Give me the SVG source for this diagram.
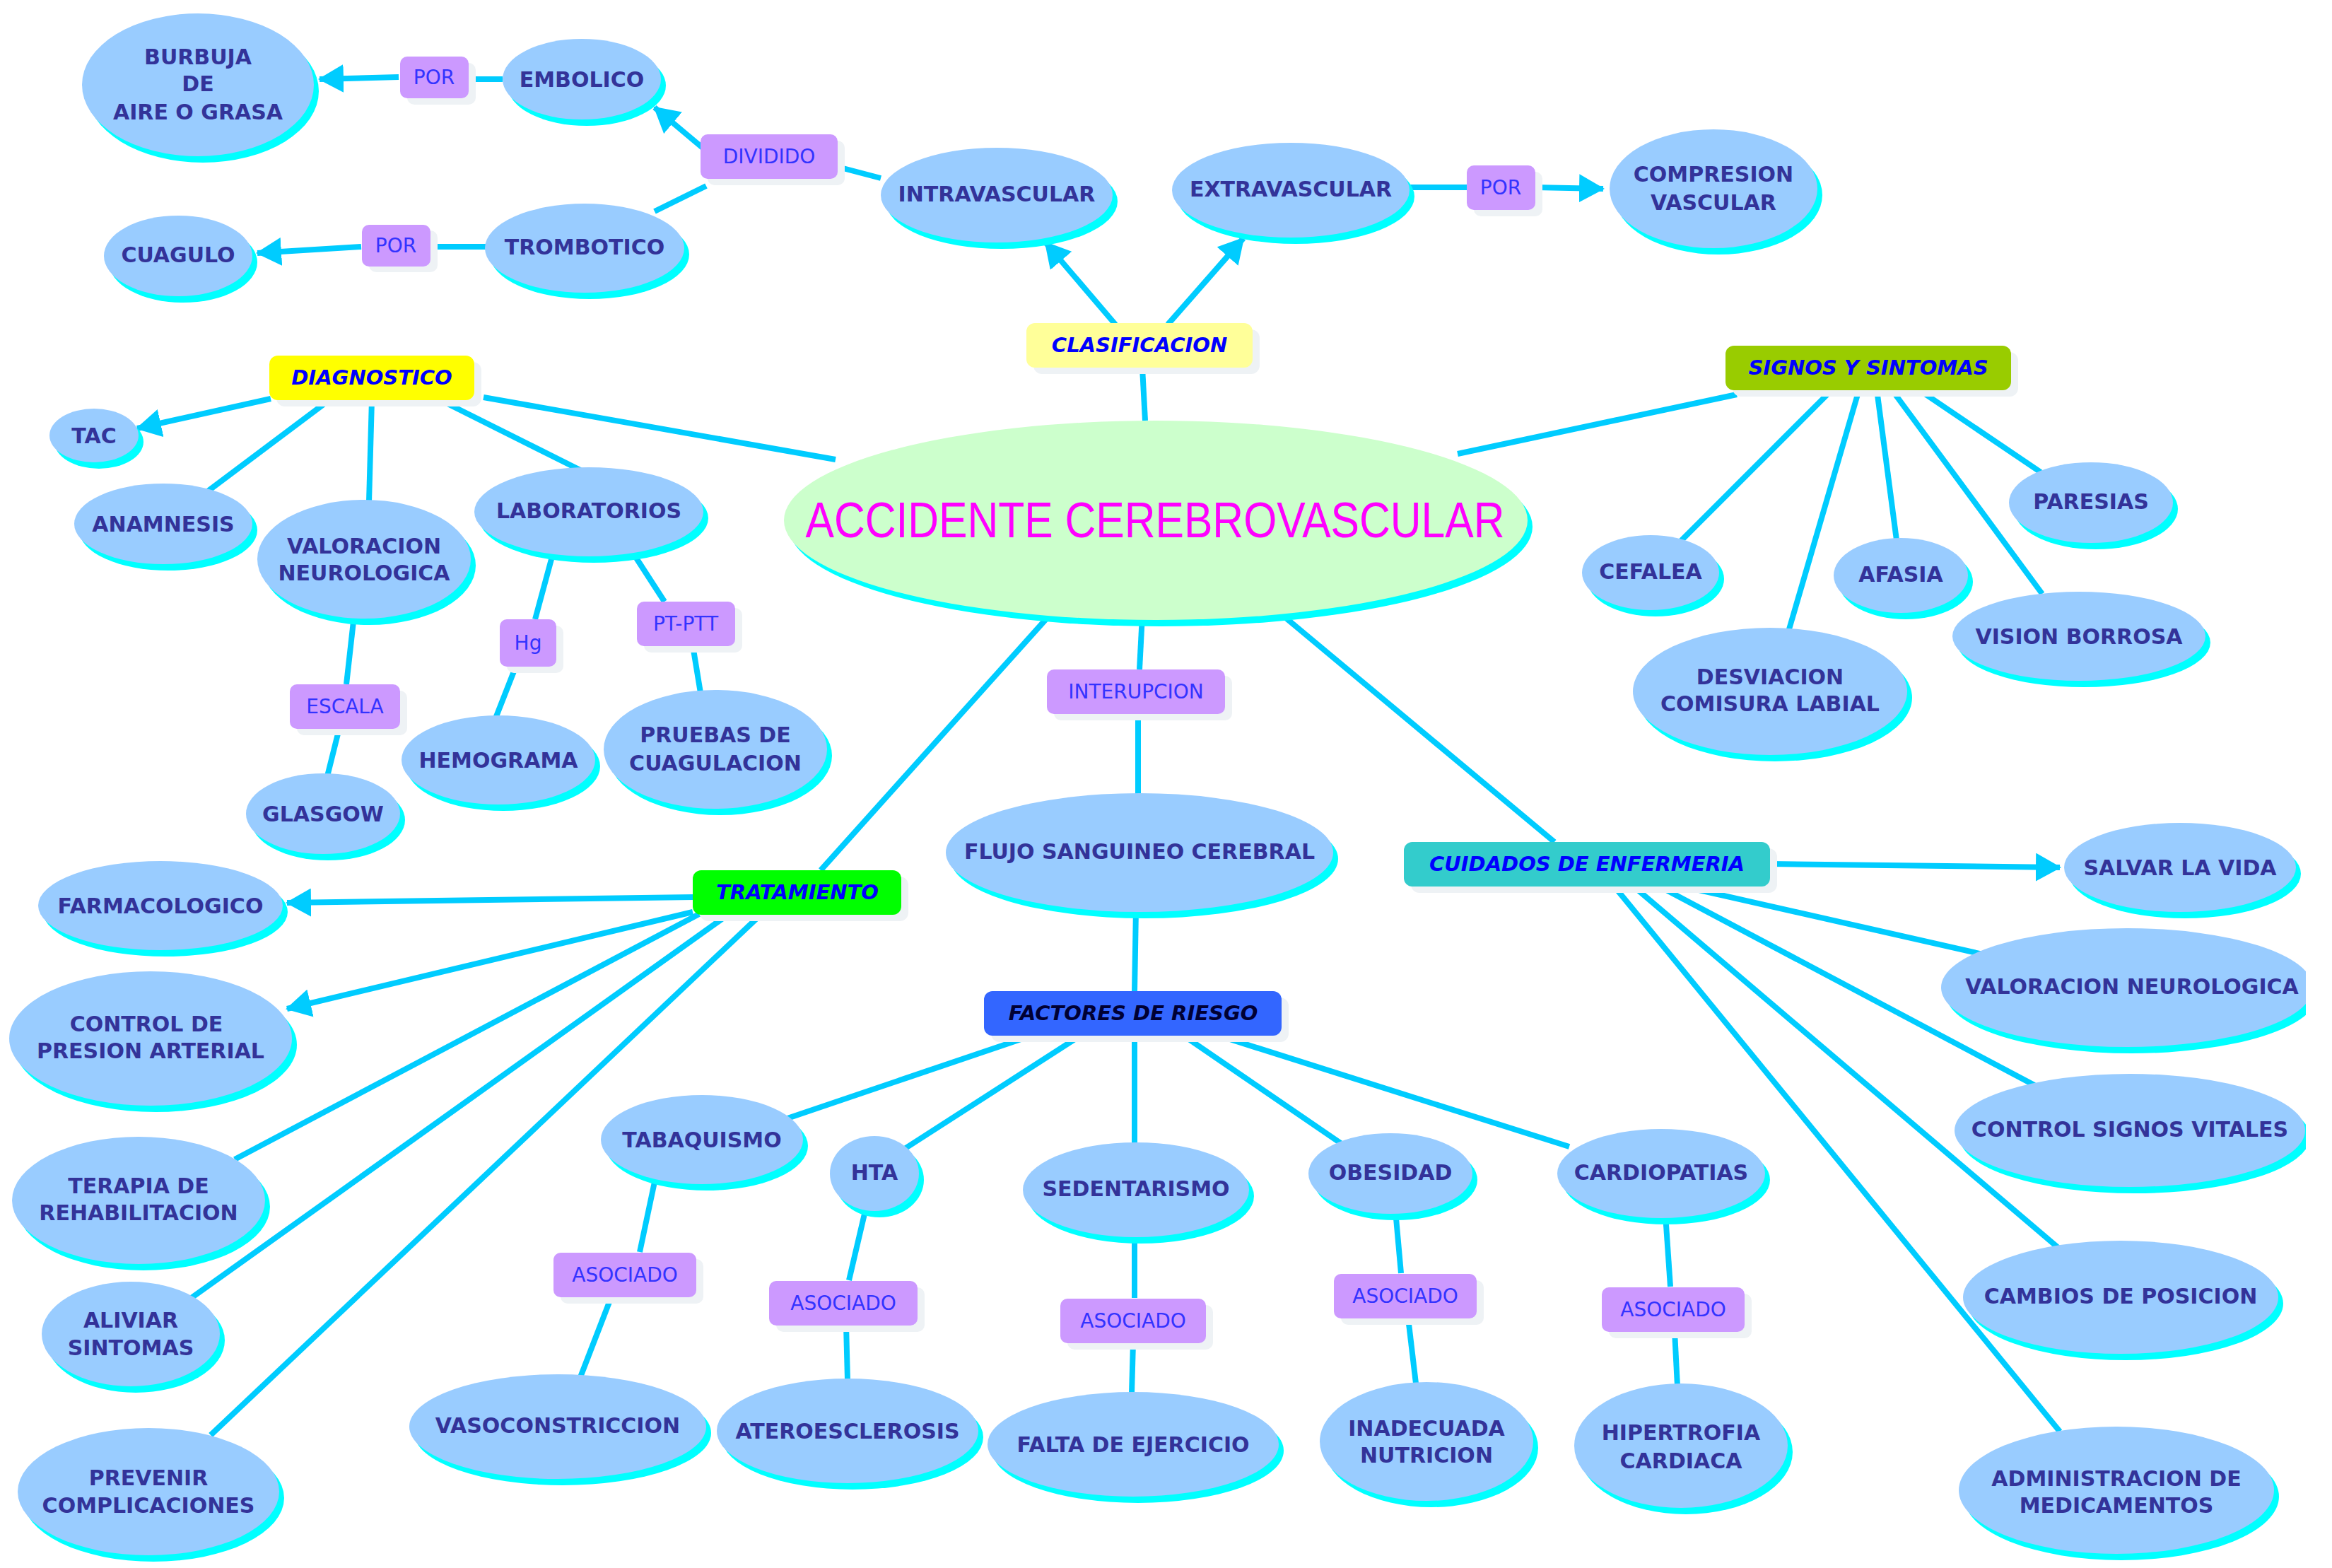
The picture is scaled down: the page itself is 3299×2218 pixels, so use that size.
<svg xmlns="http://www.w3.org/2000/svg" width="3299" height="2218" viewBox="0 0 3299 2218">
<style>
.bg{fill:#ffffff}
.sh{fill:#00ffff}
.el{fill:#99ccff}
.main{fill:#ccffcc}
.t{font-family:"DejaVu Sans",Verdana,sans-serif;font-weight:bold;font-size:30px;fill:#333399;text-anchor:middle;dominant-baseline:central}
.mt{font-family:"Liberation Sans",Arial,sans-serif;font-size:70px;fill:#ff00ff;text-anchor:middle;dominant-baseline:central}
.bs{fill:#eef2f5}
.pb{fill:#cc99ff}
.lt{font-family:"DejaVu Sans",Verdana,sans-serif;font-size:28px;fill:#3333ff;text-anchor:middle;dominant-baseline:central}
.ct{font-family:"DejaVu Sans",Verdana,sans-serif;font-weight:bold;font-style:italic;font-size:29px;fill:#0000ff;text-anchor:middle;dominant-baseline:central}
.cn{stroke:#00ccff;stroke-width:8;fill:none;stroke-linecap:butt}
.ar{marker-end:url(#arrow)}
</style>
<defs>
<marker id="arrow" markerUnits="userSpaceOnUse" viewBox="0 0 36 40" markerWidth="36" markerHeight="40" refX="34" refY="20" orient="auto">
<path d="M0,0 L36,20 L0,40 z" fill="#00ccff"/>
</marker>
<clipPath id="clip"><rect x="0" y="0" width="3262" height="2218"/></clipPath>
</defs>
<rect class="bg" x="0" y="0" width="3299" height="2218"/>
<g clip-path="url(#clip)">
<g id="connectors">
<line class="cn ar" x1="564" y1="109" x2="452" y2="112"/>
<line class="cn" x1="711" y1="112" x2="662" y2="112"/>
<line class="cn ar" x1="995" y1="210" x2="926" y2="152"/>
<line class="cn" x1="999" y1="263" x2="926" y2="299"/>
<line class="cn" x1="1246" y1="252" x2="1185" y2="236"/>
<line class="cn" x1="688" y1="349" x2="608" y2="349"/>
<line class="cn ar" x1="511" y1="349" x2="364" y2="358"/>
<line class="cn ar" x1="1578" y1="459" x2="1479" y2="343"/>
<line class="cn ar" x1="1652" y1="459" x2="1759" y2="337"/>
<line class="cn" x1="1994" y1="265" x2="2075" y2="265"/>
<line class="cn ar" x1="2171" y1="265" x2="2268" y2="267"/>
<line class="cn" x1="1620" y1="595" x2="1616" y2="520"/>
<line class="cn" x1="1182" y1="650" x2="684" y2="562"/>
<line class="cn ar" x1="383" y1="564" x2="194" y2="606"/>
<line class="cn" x1="467" y1="565" x2="291" y2="697"/>
<line class="cn" x1="526" y1="565" x2="522" y2="710"/>
<line class="cn" x1="621" y1="565" x2="821" y2="665"/>
<line class="cn" x1="501" y1="870" x2="490" y2="968"/>
<line class="cn" x1="480" y1="1030" x2="463" y2="1098"/>
<line class="cn" x1="783" y1="780" x2="757" y2="876"/>
<line class="cn" x1="730" y1="942" x2="701" y2="1016"/>
<line class="cn" x1="894" y1="780" x2="940" y2="851"/>
<line class="cn" x1="980" y1="913" x2="991" y2="980"/>
<line class="cn" x1="2062" y1="642" x2="2457" y2="558"/>
<line class="cn" x1="2592" y1="551" x2="2378" y2="765"/>
<line class="cn" x1="2630" y1="551" x2="2531" y2="890"/>
<line class="cn" x1="2655" y1="551" x2="2683" y2="764"/>
<line class="cn" x1="2676" y1="551" x2="2889" y2="840"/>
<line class="cn" x1="2714" y1="551" x2="2887" y2="668"/>
<line class="cn" x1="1616" y1="870" x2="1612" y2="947"/>
<line class="cn" x1="1610" y1="1009" x2="1610" y2="1126"/>
<line class="cn" x1="1607" y1="1285" x2="1605" y2="1402"/>
<line class="cn" x1="1485" y1="870" x2="1161" y2="1231"/>
<line class="cn" x1="1814" y1="870" x2="2199" y2="1191"/>
<line class="cn ar" x1="981" y1="1269" x2="406" y2="1277"/>
<line class="cn ar" x1="980" y1="1290" x2="406" y2="1427"/>
<line class="cn" x1="989" y1="1293" x2="332" y2="1640"/>
<line class="cn" x1="1031" y1="1293" x2="265" y2="1840"/>
<line class="cn" x1="1077" y1="1293" x2="298" y2="2030"/>
<line class="cn ar" x1="2504" y1="1222" x2="2914" y2="1227"/>
<line class="cn" x1="2377" y1="1253" x2="2805" y2="1350"/>
<line class="cn" x1="2346" y1="1253" x2="2878" y2="1535"/>
<line class="cn" x1="2310" y1="1253" x2="2920" y2="1772"/>
<line class="cn" x1="2283" y1="1253" x2="2914" y2="2025"/>
<line class="cn" x1="1462" y1="1464" x2="1105" y2="1585"/>
<line class="cn" x1="1530" y1="1464" x2="1275" y2="1628"/>
<line class="cn" x1="1605" y1="1464" x2="1605" y2="1620"/>
<line class="cn" x1="1673" y1="1464" x2="1898" y2="1618"/>
<line class="cn" x1="1721" y1="1464" x2="2220" y2="1622"/>
<line class="cn" x1="926" y1="1672" x2="905" y2="1771"/>
<line class="cn" x1="865" y1="1834" x2="821" y2="1948"/>
<line class="cn" x1="1227" y1="1700" x2="1201" y2="1811"/>
<line class="cn" x1="1197" y1="1874" x2="1199" y2="1952"/>
<line class="cn" x1="1605" y1="1745" x2="1605" y2="1836"/>
<line class="cn" x1="1603" y1="1899" x2="1601" y2="1971"/>
<line class="cn" x1="1974" y1="1712" x2="1982" y2="1801"/>
<line class="cn" x1="1992" y1="1864" x2="2003" y2="1957"/>
<line class="cn" x1="2356" y1="1718" x2="2363" y2="1820"/>
<line class="cn" x1="2369" y1="1883" x2="2373" y2="1961"/>
</g>

<g id="n-main"><ellipse class="sh" cx="1642" cy="745" rx="526" ry="141"/><ellipse class="main" cx="1635" cy="736" rx="526" ry="141"/><text class="mt" x="1634" y="736" textLength="989" lengthAdjust="spacingAndGlyphs">ACCIDENTE CEREBROVASCULAR</text></g>

<g id="n-burbuja"><ellipse class="sh" cx="287" cy="129" rx="164" ry="101"/><ellipse class="el" cx="280" cy="120" rx="164" ry="101"/><text class="t" x="280" y="80">BURBUJA</text><text class="t" x="280" y="118">DE</text><text class="t" x="280" y="158">AIRE O GRASA</text></g>
<g id="n-embolico"><ellipse class="sh" cx="830" cy="121" rx="112" ry="57"/><ellipse class="el" cx="823" cy="112" rx="112" ry="57"/><text class="t" x="823" y="112">EMBOLICO</text></g>
<g id="n-intravascular"><ellipse class="sh" cx="1417" cy="285" rx="164" ry="67"/><ellipse class="el" cx="1410" cy="276" rx="164" ry="67"/><text class="t" x="1410" y="274">INTRAVASCULAR</text></g>
<g id="n-trombotico"><ellipse class="sh" cx="834" cy="360" rx="141" ry="63"/><ellipse class="el" cx="827" cy="351" rx="141" ry="63"/><text class="t" x="827" y="349">TROMBOTICO</text></g>
<g id="n-cuagulo"><ellipse class="sh" cx="259" cy="371" rx="105" ry="57"/><ellipse class="el" cx="252" cy="362" rx="105" ry="57"/><text class="t" x="252" y="360">CUAGULO</text></g>
<g id="n-extravascular"><ellipse class="sh" cx="1833" cy="278" rx="168" ry="67"/><ellipse class="el" cx="1826" cy="269" rx="168" ry="67"/><text class="t" x="1826" y="267">EXTRAVASCULAR</text></g>
<g id="n-compresion"><ellipse class="sh" cx="2431" cy="276" rx="147" ry="84"/><ellipse class="el" cx="2424" cy="267" rx="147" ry="84"/><text class="t" x="2424" y="246">COMPRESION</text><text class="t" x="2424" y="286">VASCULAR</text></g>

<g id="n-tac"><ellipse class="sh" cx="140" cy="625" rx="63" ry="38"/><ellipse class="el" cx="133" cy="616" rx="63" ry="38"/><text class="t" x="133" y="616">TAC</text></g>
<g id="n-anamnesis"><ellipse class="sh" cx="238" cy="750" rx="126" ry="57"/><ellipse class="el" cx="231" cy="741" rx="126" ry="57"/><text class="t" x="231" y="741">ANAMNESIS</text></g>
<g id="n-valoracion1"><ellipse class="sh" cx="522" cy="800" rx="151" ry="84"/><ellipse class="el" cx="515" cy="791" rx="151" ry="84"/><text class="t" x="515" y="772">VALORACION</text><text class="t" x="515" y="810">NEUROLOGICA</text></g>
<g id="n-laboratorios"><ellipse class="sh" cx="840" cy="733" rx="162" ry="63"/><ellipse class="el" cx="833" cy="724" rx="162" ry="63"/><text class="t" x="833" y="722">LABORATORIOS</text></g>
<g id="n-glasgow"><ellipse class="sh" cx="464" cy="1160" rx="109" ry="57"/><ellipse class="el" cx="457" cy="1151" rx="109" ry="57"/><text class="t" x="457" y="1151">GLASGOW</text></g>
<g id="n-hemograma"><ellipse class="sh" cx="712" cy="1084" rx="137" ry="63"/><ellipse class="el" cx="705" cy="1075" rx="137" ry="63"/><text class="t" x="705" y="1075">HEMOGRAMA</text></g>
<g id="n-pruebas"><ellipse class="sh" cx="1019" cy="1069" rx="158" ry="84"/><ellipse class="el" cx="1012" cy="1060" rx="158" ry="84"/><text class="t" x="1012" y="1039">PRUEBAS DE</text><text class="t" x="1012" y="1079">CUAGULACION</text></g>

<g id="n-paresias"><ellipse class="sh" cx="2965" cy="720" rx="116" ry="57"/><ellipse class="el" cx="2958" cy="711" rx="116" ry="57"/><text class="t" x="2958" y="709">PARESIAS</text></g>
<g id="n-cefalea"><ellipse class="sh" cx="2342" cy="819" rx="97" ry="53"/><ellipse class="el" cx="2335" cy="810" rx="97" ry="53"/><text class="t" x="2335" y="808">CEFALEA</text></g>
<g id="n-afasia"><ellipse class="sh" cx="2696" cy="823" rx="95" ry="53"/><ellipse class="el" cx="2689" cy="814" rx="95" ry="53"/><text class="t" x="2689" y="812">AFASIA</text></g>
<g id="n-vision"><ellipse class="sh" cx="2948" cy="909" rx="179" ry="63"/><ellipse class="el" cx="2941" cy="900" rx="179" ry="63"/><text class="t" x="2941" y="900">VISION BORROSA</text></g>
<g id="n-desviacion"><ellipse class="sh" cx="2511" cy="987" rx="194" ry="90"/><ellipse class="el" cx="2504" cy="978" rx="194" ry="90"/><text class="t" x="2504" y="957">DESVIACION</text><text class="t" x="2504" y="995">COMISURA LABIAL</text></g>

<g id="n-flujo"><ellipse class="sh" cx="1619" cy="1215" rx="274" ry="84"/><ellipse class="el" cx="1612" cy="1206" rx="274" ry="84"/><text class="t" x="1612" y="1204">FLUJO SANGUINEO CEREBRAL</text></g>

<g id="n-salvar"><ellipse class="sh" cx="3091" cy="1236" rx="164" ry="63"/><ellipse class="el" cx="3084" cy="1227" rx="164" ry="63"/><text class="t" x="3084" y="1227">SALVAR LA VIDA</text></g>
<g id="n-valoracion2"><ellipse class="sh" cx="3016" cy="1406" rx="263" ry="84"/><ellipse class="el" cx="3009" cy="1397" rx="263" ry="84"/><text class="t" x="3016" y="1395">VALORACION NEUROLOGICA</text></g>
<g id="n-signosvitales"><ellipse class="sh" cx="3020" cy="1608" rx="248" ry="80"/><ellipse class="el" cx="3013" cy="1599" rx="248" ry="80"/><text class="t" x="3013" y="1597">CONTROL SIGNOS VITALES</text></g>
<g id="n-cambios"><ellipse class="sh" cx="3007" cy="1844" rx="223" ry="80"/><ellipse class="el" cx="3000" cy="1835" rx="223" ry="80"/><text class="t" x="3000" y="1833">CAMBIOS DE POSICION</text></g>
<g id="n-administracion"><ellipse class="sh" cx="3001" cy="2117" rx="223" ry="90"/><ellipse class="el" cx="2994" cy="2108" rx="223" ry="90"/><text class="t" x="2994" y="2091">ADMINISTRACION DE</text><text class="t" x="2994" y="2129">MEDICAMENTOS</text></g>

<g id="n-farmacologico"><ellipse class="sh" cx="234" cy="1290" rx="173" ry="63"/><ellipse class="el" cx="227" cy="1281" rx="173" ry="63"/><text class="t" x="227" y="1281">FARMACOLOGICO</text></g>
<g id="n-presion"><ellipse class="sh" cx="220" cy="1478" rx="200" ry="95"/><ellipse class="el" cx="213" cy="1469" rx="200" ry="95"/><text class="t" x="207" y="1448">CONTROL DE</text><text class="t" x="213" y="1486">PRESION ARTERIAL</text></g>
<g id="n-terapia"><ellipse class="sh" cx="203" cy="1707" rx="179" ry="90"/><ellipse class="el" cx="196" cy="1698" rx="179" ry="90"/><text class="t" x="196" y="1677">TERAPIA DE</text><text class="t" x="196" y="1715">REHABILITACION</text></g>
<g id="n-aliviar"><ellipse class="sh" cx="192" cy="1896" rx="126" ry="74"/><ellipse class="el" cx="185" cy="1887" rx="126" ry="74"/><text class="t" x="185" y="1867">ALIVIAR</text><text class="t" x="185" y="1906">SINTOMAS</text></g>
<g id="n-prevenir"><ellipse class="sh" cx="217" cy="2119" rx="185" ry="90"/><ellipse class="el" cx="210" cy="2110" rx="185" ry="90"/><text class="t" x="210" y="2090">PREVENIR</text><text class="t" x="210" y="2129">COMPLICACIONES</text></g>

<g id="n-tabaquismo"><ellipse class="sh" cx="1000" cy="1621" rx="143" ry="63"/><ellipse class="el" cx="993" cy="1612" rx="143" ry="63"/><text class="t" x="993" y="1612">TABAQUISMO</text></g>
<g id="n-hta"><ellipse class="sh" cx="1244" cy="1669" rx="63" ry="53"/><ellipse class="el" cx="1237" cy="1660" rx="63" ry="53"/><text class="t" x="1237" y="1658">HTA</text></g>
<g id="n-sedentarismo"><ellipse class="sh" cx="1614" cy="1692" rx="160" ry="67"/><ellipse class="el" cx="1607" cy="1683" rx="160" ry="67"/><text class="t" x="1607" y="1681">SEDENTARISMO</text></g>
<g id="n-obesidad"><ellipse class="sh" cx="1974" cy="1669" rx="116" ry="57"/><ellipse class="el" cx="1967" cy="1660" rx="116" ry="57"/><text class="t" x="1967" y="1658">OBESIDAD</text></g>
<g id="n-cardiopatias"><ellipse class="sh" cx="2357" cy="1669" rx="147" ry="63"/><ellipse class="el" cx="2350" cy="1660" rx="147" ry="63"/><text class="t" x="2350" y="1658">CARDIOPATIAS</text></g>
<g id="n-vasoconstriccion"><ellipse class="sh" cx="796" cy="2027" rx="210" ry="74"/><ellipse class="el" cx="789" cy="2018" rx="210" ry="74"/><text class="t" x="789" y="2016">VASOCONSTRICCION</text></g>
<g id="n-ateroesclerosis"><ellipse class="sh" cx="1206" cy="2033" rx="185" ry="74"/><ellipse class="el" cx="1199" cy="2024" rx="185" ry="74"/><text class="t" x="1199" y="2024">ATEROESCLEROSIS</text></g>
<g id="n-falta"><ellipse class="sh" cx="1610" cy="2052" rx="206" ry="74"/><ellipse class="el" cx="1603" cy="2043" rx="206" ry="74"/><text class="t" x="1603" y="2043">FALTA DE EJERCICIO</text></g>
<g id="n-inadecuada"><ellipse class="sh" cx="2025" cy="2048" rx="151" ry="84"/><ellipse class="el" cx="2018" cy="2039" rx="151" ry="84"/><text class="t" x="2018" y="2020">INADECUADA</text><text class="t" x="2018" y="2058">NUTRICION</text></g>
<g id="n-hipertrofia"><ellipse class="sh" cx="2385" cy="2054" rx="151" ry="88"/><ellipse class="el" cx="2378" cy="2045" rx="151" ry="88"/><text class="t" x="2378" y="2026">HIPERTROFIA</text><text class="t" x="2378" y="2066">CARDIACA</text></g>

<g id="b-por1"><rect class="bs" x="576" y="89" width="97" height="59" rx="10"/><rect class="pb" x="566" y="80" width="97" height="59" rx="10"/><text class="lt" x="614" y="109">POR</text></g>
<g id="b-dividido"><rect class="bs" x="1001" y="199" width="194" height="63" rx="10"/><rect class="pb" x="991" y="190" width="194" height="63" rx="10"/><text class="lt" x="1088" y="221">DIVIDIDO</text></g>
<g id="b-por2"><rect class="bs" x="522" y="326" width="97" height="59" rx="10"/><rect class="pb" x="512" y="318" width="97" height="59" rx="10"/><text class="lt" x="560" y="347">POR</text></g>
<g id="b-por3"><rect class="bs" x="2085" y="243" width="97" height="63" rx="10"/><rect class="pb" x="2075" y="234" width="97" height="63" rx="10"/><text class="lt" x="2123" y="265">POR</text></g>
<g id="b-clasificacion"><rect class="bs" x="1462" y="466" width="320" height="63" rx="12"/><rect fill="#ffff99" x="1452" y="457" width="320" height="63" rx="12"/><text class="ct" x="1612" y="488">CLASIFICACION</text></g>
<g id="b-diagnostico"><rect class="bs" x="391" y="512" width="290" height="63" rx="12"/><rect fill="#ffff00" x="381" y="503" width="290" height="63" rx="12"/><text class="ct" x="526" y="534">DIAGNOSTICO</text></g>
<g id="b-signos"><rect class="bs" x="2451" y="498" width="404" height="63" rx="12"/><rect fill="#99cc00" x="2441" y="489" width="404" height="63" rx="12"/><text class="ct" x="2643" y="520">SIGNOS Y SINTOMAS</text></g>
<g id="b-hg"><rect class="bs" x="717" y="885" width="80" height="67" rx="10"/><rect class="pb" x="707" y="876" width="80" height="67" rx="10"/><text class="lt" x="747" y="909">Hg</text></g>
<g id="b-ptptt"><rect class="bs" x="911" y="860" width="139" height="63" rx="10"/><rect class="pb" x="901" y="851" width="139" height="63" rx="10"/><text class="lt" x="970" y="882">PT-PTT</text></g>
<g id="b-escala"><rect class="bs" x="420" y="977" width="156" height="63" rx="10"/><rect class="pb" x="410" y="968" width="156" height="63" rx="10"/><text class="lt" x="488" y="999">ESCALA</text></g>
<g id="b-interupcion"><rect class="bs" x="1491" y="956" width="252" height="63" rx="10"/><rect class="pb" x="1481" y="947" width="252" height="63" rx="10"/><text class="lt" x="1607" y="978">INTERUPCION</text></g>
<g id="b-tratamiento"><rect class="bs" x="990" y="1240" width="295" height="63" rx="12"/><rect fill="#00ff00" x="980" y="1231" width="295" height="63" rx="12"/><text class="ct" x="1128" y="1262">TRATAMIENTO</text></g>
<g id="b-factores"><rect class="bs" x="1402" y="1411" width="421" height="63" rx="12"/><rect fill="#3366ff" x="1392" y="1402" width="421" height="63" rx="12"/><text class="ct" x="1603" y="1433" style="fill:#000033">FACTORES DE RIESGO</text></g>
<g id="b-cuidados"><rect class="bs" x="1996" y="1200" width="518" height="63" rx="12"/><rect fill="#33cccc" x="1986" y="1191" width="518" height="63" rx="12"/><text class="ct" x="2245" y="1222">CUIDADOS DE ENFERMERIA</text></g>
<g id="b-asociado1"><rect class="bs" x="793" y="1781" width="202" height="63" rx="10"/><rect class="pb" x="783" y="1772" width="202" height="63" rx="10"/><text class="lt" x="884" y="1803">ASOCIADO</text></g>
<g id="b-asociado2"><rect class="bs" x="1098" y="1821" width="210" height="63" rx="10"/><rect class="pb" x="1088" y="1812" width="210" height="63" rx="10"/><text class="lt" x="1193" y="1843">ASOCIADO</text></g>
<g id="b-asociado3"><rect class="bs" x="1510" y="1846" width="206" height="63" rx="10"/><rect class="pb" x="1500" y="1837" width="206" height="63" rx="10"/><text class="lt" x="1603" y="1868">ASOCIADO</text></g>
<g id="b-asociado4"><rect class="bs" x="1897" y="1811" width="202" height="63" rx="10"/><rect class="pb" x="1887" y="1802" width="202" height="63" rx="10"/><text class="lt" x="1988" y="1833">ASOCIADO</text></g>
<g id="b-asociado5"><rect class="bs" x="2276" y="1830" width="202" height="63" rx="10"/><rect class="pb" x="2266" y="1821" width="202" height="63" rx="10"/><text class="lt" x="2367" y="1852">ASOCIADO</text></g>
</g>
</svg>
